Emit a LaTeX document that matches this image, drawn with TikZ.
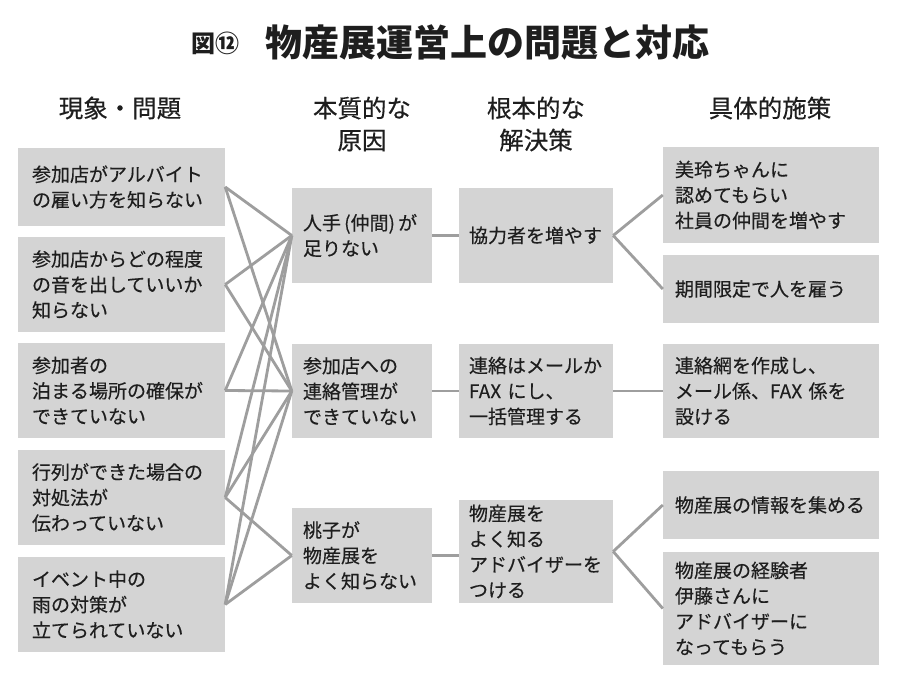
\documentclass[tikz,border=0pt]{standalone}
\usepackage{fontspec}
\setmainfont{Noto Sans CJK JP}
\newfontfamily\jpmed{Noto Sans CJK JP}[FakeBold=0.35]
\definecolor{boxgray}{RGB}{212,212,212}
\definecolor{linegray}{RGB}{158,158,158}
\definecolor{txt}{RGB}{30,30,30}
\begin{document}
\begin{tikzpicture}[x=1pt,y=-1pt,
  box/.style={fill=boxgray, text=txt, inner ysep=0pt, align=left,
    font=\jpmed\fontsize{19}{25.5}\selectfont, anchor=center},
  lbox/.style={box, text width=179pt, inner xsep=14pt},
  mbox/.style={box, text width=118pt, inner xsep=11pt},
  sbox/.style={box, text width=134pt, inner xsep=10pt},
  rbox/.style={box, text width=192pt, inner xsep=12pt},
  conn/.style={draw=linegray, line width=2.8pt},
  head/.style={text=txt, align=center, font=\jpmed\fontsize{24.5}{32}\selectfont, inner sep=0pt}]
\useasboundingbox (0,0) rectangle (908,690);
\fill[white] (0,0) rectangle (908,690);

% title
\node[text=txt, inner sep=0pt, font=\fontsize{24}{24}\selectfont\bfseries] (t1) at (215,43) {図⑫};
\node[text=txt, inner sep=0pt, font=\fontsize{37}{37}\selectfont\bfseries] (t2) at (487,42) {物産展運営上の問題と対応};

% headers
\node[head] (h1) at (120,108) {現象・問題};
\node[head] (h2) at (362,124) {本質的な\\原因};
\node[head] (h3) at (536,124) {根本的な\\解決策};
\node[head] (h4) at (770,108) {具体的施策};

% column 1
\node[lbox, minimum height=78pt] (L1) at (121.5,187) {参加店がアルバイト\\の雇い方を知らない};
\node[lbox, minimum height=95pt] (L2) at (121.5,284.5) {参加店からどの程度\\の音を出していいか\\知らない};
\node[lbox, minimum height=95pt] (L3) at (121.5,390.5) {参加者の\\泊まる場所の確保が\\できていない};
\node[lbox, minimum height=95pt] (L4) at (121.5,497.5) {行列ができた場合の\\対処法が\\伝わっていない};
\node[lbox, minimum height=95pt] (L5) at (121.5,604.5) {イベント中の\\雨の対策が\\立てられていない};

% column 2
\node[mbox, minimum height=95pt] (A) at (362,235.5) {人手\,(仲間)\,が\\足りない};
\node[mbox, minimum height=94pt] (B) at (362,391) {参加店への\\連絡管理が\\できていない};
\node[mbox, minimum height=95pt] (C) at (362,555.5) {桃子が\\物産展を\\よく知らない};

% column 3
\node[sbox, minimum height=95pt] (D) at (536,235.5) {協力者を増やす};
\node[sbox, minimum height=94pt] (E) at (536,391) {連絡はメールか\\FAX にし、\\一括管理する};
\node[sbox, minimum height=103pt] (F) at (536,551.5) {物産展を\\よく知る\\アドバイザーを\\つける};

% column 4
\node[rbox, minimum height=96pt] (R1) at (771,195) {美玲ちゃんに\\認めてもらい\\社員の仲間を増やす};
\node[rbox, minimum height=68pt] (R2) at (771,289) {期間限定で人を雇う};
\node[rbox, minimum height=94pt] (R3) at (771,391) {連絡網を作成し、\\メール係、FAX 係を\\設ける};
\node[rbox, minimum height=68pt] (R4) at (771,505) {物産展の情報を集める};
\node[rbox, minimum height=113pt] (R5) at (771,608.5) {物産展の経験者\\伊藤さんに\\アドバイザーに\\なってもらう};

% connectors: problems -> causes
\draw[conn] (L1.east) -- (A.west);
\draw[conn] (L1.east) -- (B.west);
\draw[conn] (L2.east) -- (A.west);
\draw[conn] (L2.east) -- (B.west);
\draw[conn] (L3.east) -- (A.west);
\draw[conn] (L3.east) -- (B.west);
\draw[conn] (L4.east) -- (A.west);
\draw[conn] (L4.east) -- (B.west);
\draw[conn] (L4.east) -- (C.west);
\draw[conn] (L5.east) -- (A.west);
\draw[conn] (L5.east) -- (B.west);
\draw[conn] (L5.east) -- (C.west);

% causes -> solutions
\draw[conn] (A.east) -- (A.east -| D.west);
\draw[conn] (B.east) -- (B.east -| E.west);
\draw[conn] (C.east) -- (C.east -| F.west);

% solutions -> measures
\draw[conn] (D.east) -- (R1.west);
\draw[conn] (D.east) -- (R2.west);
\draw[conn] (E.east) -- (E.east -| R3.west);
\draw[conn] (F.east) -- (R4.west);
\draw[conn] (F.east) -- (R5.west);
\end{tikzpicture}
\end{document}
